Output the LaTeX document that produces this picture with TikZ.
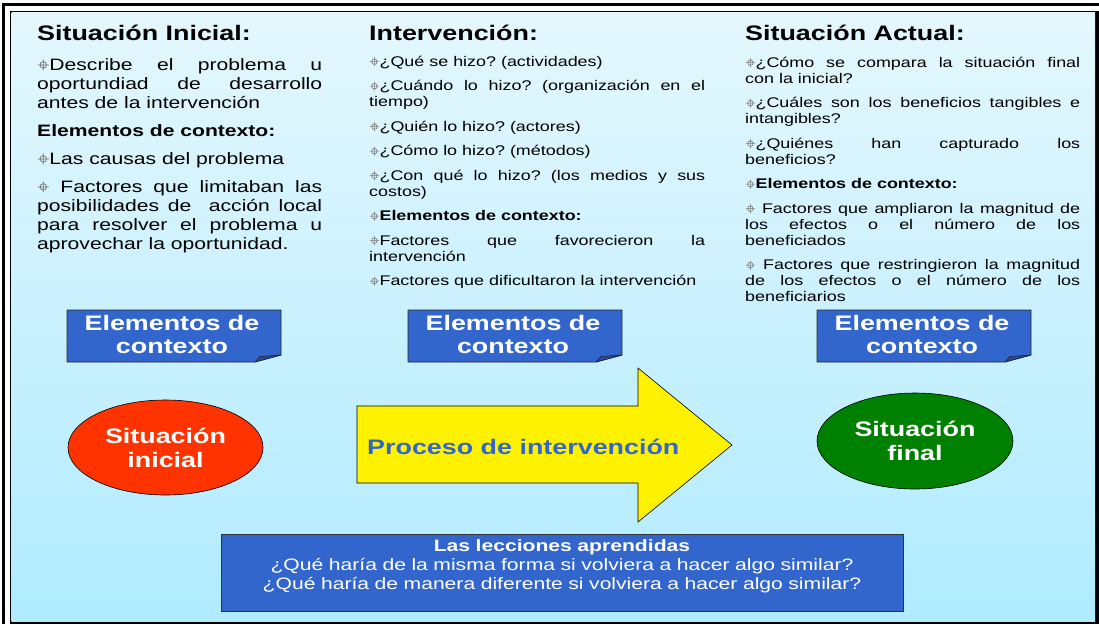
\documentclass[tikz,border=0pt]{standalone}
\usepackage{fontspec}
\setmainfont{Liberation Sans}[FakeStretch=1.28]
\usetikzlibrary{shapes.geometric}
\definecolor{fondoarriba}{RGB}{228,247,253}
\definecolor{fondoabajo}{RGB}{176,235,255}
\definecolor{azulcaja}{RGB}{51,102,204}
\definecolor{azulpliegue}{RGB}{36,74,158}
\definecolor{rojosit}{RGB}{255,51,0}
\definecolor{verdesit}{RGB}{0,128,0}
\definecolor{grisvin}{RGB}{120,120,120}
\frenchspacing
\newcommand{\vin}{\tikz[baseline=0pt, x=1em, y=1em, line width=0.045em, color=grisvin]{%
	\useasboundingbox (0,0) rectangle (0.74,0.5);
	\draw (0.37,0.31) circle[radius=0.2] (0.04,0.31) -- (0.7,0.31) (0.37,-0.02) -- (0.37,0.64);}}
\tikzstyle{titulo} = [anchor=base west, inner sep=0pt, font=\fontsize{21}{25}\selectfont\bfseries]
\tikzstyle{colizq} = [anchor=base west, inner sep=0pt, text width=285pt, align=justify, font=\fontsize{16.5}{19}\selectfont]
\tikzstyle{colder} = [anchor=base west, inner sep=0pt, text width=336pt, align=justify, font=\fontsize{14}{16}\selectfont]
\tikzstyle{pliegue} = [fill=azulcaja, draw=black!85, line width=0.8pt, line join=round]
\tikzstyle{solapa} = [fill=azulpliegue, draw=black!85, line width=0.6pt, line join=round]
\tikzstyle{ctxtexto} = [inner sep=0pt, align=center, text=white, font=\fontsize{21}{23}\selectfont\bfseries]
\tikzstyle{situacion} = [ellipse, draw=black, line width=0.6pt, minimum width=195pt, minimum height=95pt, inner sep=0pt, align=center, text=white, font=\fontsize{21}{24}\selectfont\bfseries]
\tikzstyle{flecha} = [fill=yellow, draw=black, line width=0.6pt, line join=miter]
\tikzstyle{flechatexto} = [anchor=base west, inner sep=0pt, text=azulcaja, font=\fontsize{21}{24}\selectfont\bfseries]
\tikzstyle{leccaja} = [anchor=base, fill=azulcaja, draw=black!80, line width=1pt, inner sep=0pt, text width=682pt, align=center, text height=17pt, text depth=60pt, text=white, font=\fontsize{16.5}{19}\selectfont]

\begin{document}
\begin{tikzpicture}[x=1pt, y=-1pt]
	\useasboundingbox (0,0) rectangle (1099,624);
	% marco doble y fondo
	\fill[white] (0,0) rectangle (1099,624);
	\fill[black] (2,2.5) rectangle (1099,624);
	\fill[white] (5,5.5) rectangle (1099,624);
	\fill[black] (9.5,10.5) rectangle (1099,624);
	\shade[top color=fondoarriba, bottom color=fondoabajo] (11.5,12.5) rectangle (1095,621.5);

	\node[titulo] (tinicial) at (37,40) {Situación Inicial:};
	\node[titulo] (tinterv) at (369,40) {Intervención:};
	\node[titulo] (tactual) at (745,40) {Situación Actual:};

	\node[colizq] (colinicial) at (37,70) {\setlength{\parskip}{9pt}%
		\vin Describe el problema u\linebreak oportundiad de desarrollo\linebreak antes de la intervención\par
		\textbf{Elementos de contexto:}\par
		\vin Las causas del problema\par
		\vin\ Factores que limitaban las\linebreak posibilidades de\ \ acción local\linebreak para resolver el problema u\linebreak aprovechar la oportunidad.};

	\node[colder] (colinterv) at (369,66) {\setlength{\parskip}{8.5pt}%
		\vin ¿Qué se hizo? (actividades)\par
		\vin ¿Cuándo lo hizo? (organización en el\linebreak tiempo)\par
		\vin ¿Quién lo hizo? (actores)\par
		\vin ¿Cómo lo hizo? (métodos)\par
		\vin ¿Con qué lo hizo? (los medios y sus\linebreak costos)\par
		\vin\textbf{Elementos de contexto:}\par
		\vin Factores que favorecieron la\linebreak intervención\par
		\vin Factores que dificultaron la intervención};

	\node[colder, text width=335pt] (colactual) at (745,67) {\setlength{\parskip}{8.5pt}%
		\vin ¿Cómo se compara la situación final\linebreak con la inicial?\par
		\vin ¿Cuáles son los beneficios tangibles e\linebreak intangibles?\par
		\vin ¿Quiénes han capturado los\linebreak beneficios?\par
		\vin\textbf{Elementos de contexto:}\par
		\vin\ Factores que ampliaron la magnitud de\linebreak los efectos o el número de los\linebreak beneficiados\par
		\vin\ Factores que restringieron la magnitud\linebreak de los efectos o el número de los\linebreak beneficiarios};

	\foreach \nombre/\x in {ctxinicial/67, ctxinterv/408, ctxactual/817} {
		\filldraw[pliegue] (\x,310) -- ++(214,0) -- ++(0,45) -- ++(-26,7) -- (\x,362) -- cycle;
		\filldraw[solapa] (\x+188,362) -- ++(5,-5.5) -- ++(21,-1.5) -- cycle;
		\node[ctxtexto] (\nombre) at (\x+105,334) {Elementos de\\contexto};
	}

	\node[situacion, fill=rojosit] (inicial) at (165.5,447.5) {Situación\\inicial};
	\node[situacion, fill=verdesit, minimum width=196pt, minimum height=96pt] (final) at (915,441) {Situación\\final};

	\filldraw[flecha] (357,406) -- (638,406) -- (638,368) -- (732,445) -- (638,522) -- (638,483) -- (357,483) -- cycle;
	\node[flechatexto] (proceso) at (367,454) {Proceso de intervención};

	\node[leccaja] (lecciones) at (562,551) {\textbf{Las lecciones aprendidas}\\
		¿Qué haría de la misma forma si volviera a hacer algo similar?\\
		¿Qué haría de manera diferente si volviera a hacer algo similar?};
\end{tikzpicture}
\end{document}
